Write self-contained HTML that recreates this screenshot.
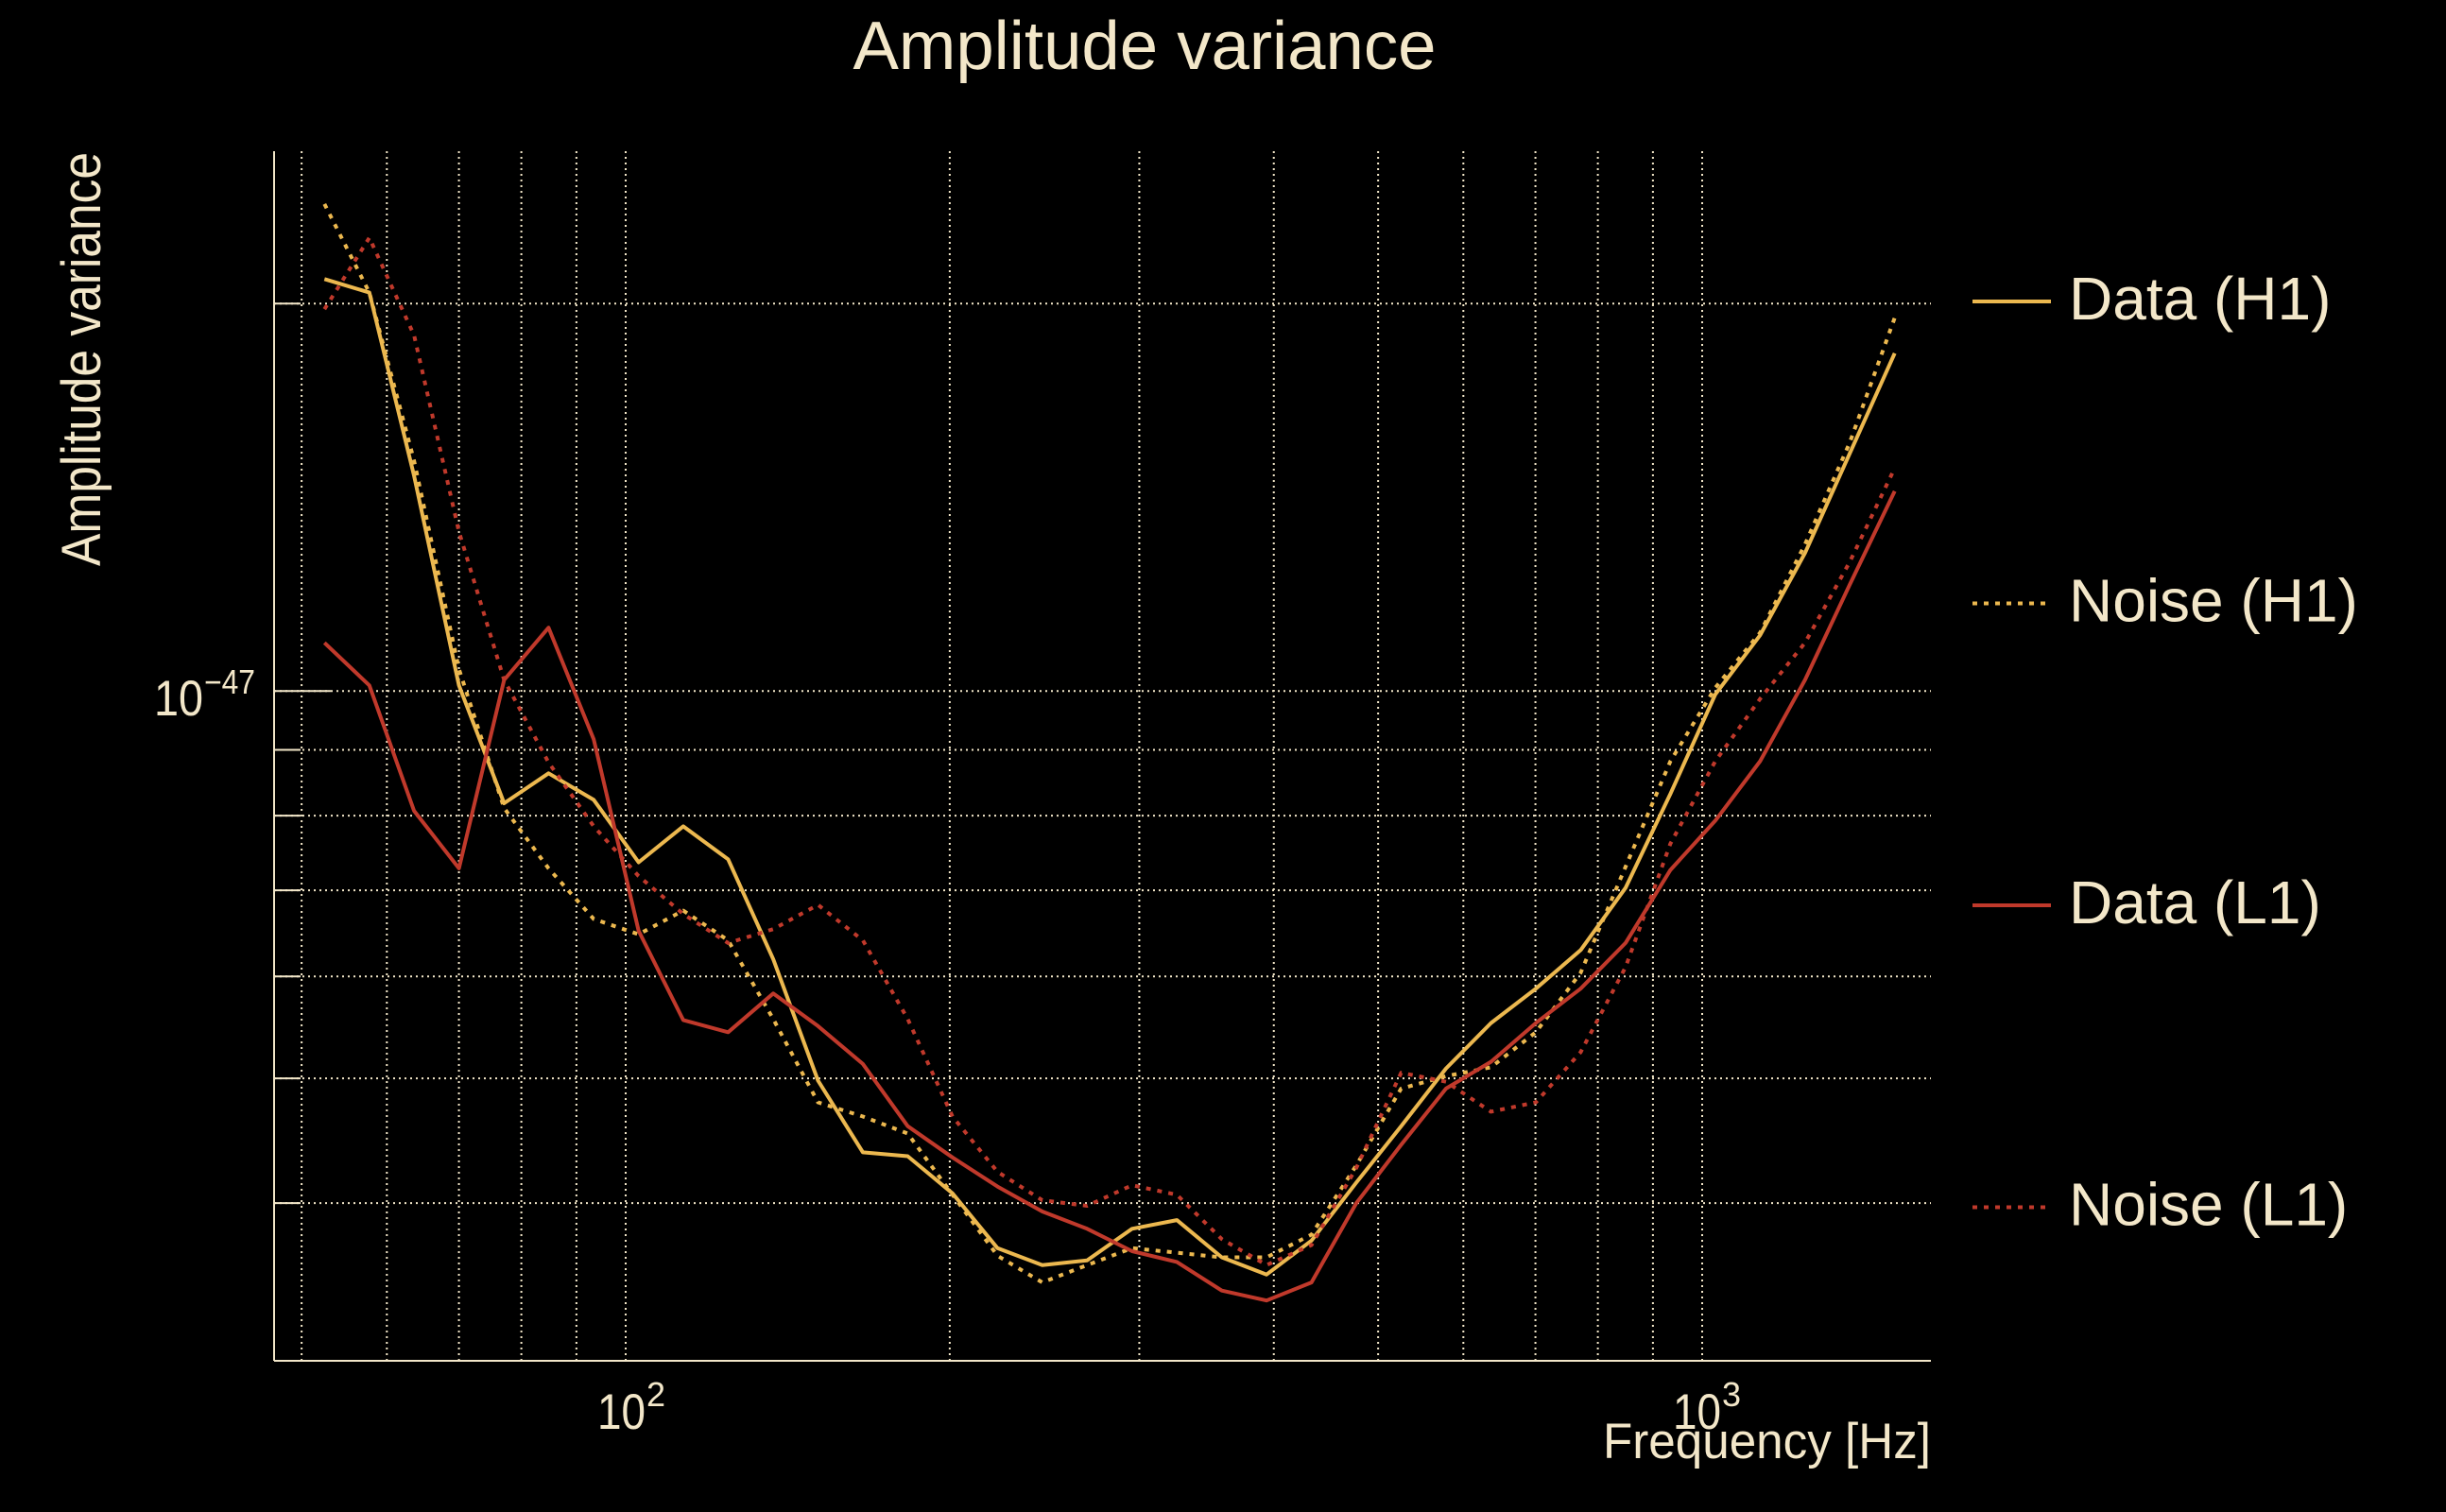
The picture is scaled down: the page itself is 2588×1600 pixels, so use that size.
<!DOCTYPE html>
<html><head><meta charset="utf-8"><title>Amplitude variance</title>
<style>html,body{margin:0;padding:0;background:#000;}svg{display:block;}
text{font-family:"Liberation Sans",sans-serif;fill:#f3e7c9;}</style></head>
<body>
<svg id="chart" width="2588" height="1600" viewBox="0 0 2588 1600" xmlns="http://www.w3.org/2000/svg">
<rect x="0" y="0" width="2588" height="1600" fill="#000"/>
<g id="grid"></g>
<g id="axes"></g>
<g id="series"></g>
<text x="1211" y="73" font-size="72" text-anchor="middle" textLength="617" lengthAdjust="spacingAndGlyphs">Amplitude variance</text>
<text transform="translate(106,380) rotate(-90)" font-size="58" text-anchor="middle" textLength="438" lengthAdjust="spacingAndGlyphs">Amplitude variance</text>
<text x="2043" y="1543" font-size="53" text-anchor="end" textLength="347" lengthAdjust="spacingAndGlyphs">Frequency [Hz]</text>
<g>
<text x="163" y="757" font-size="53" textLength="52" lengthAdjust="spacingAndGlyphs">10</text>
<text x="216" y="734" font-size="36" textLength="54" lengthAdjust="spacingAndGlyphs">−47</text>
</g>
<g>
<text x="632" y="1512" font-size="53" textLength="51" lengthAdjust="spacingAndGlyphs">10</text>
<text x="684" y="1488" font-size="36">2</text>
</g>
<g>
<text x="1770" y="1512" font-size="53" textLength="51" lengthAdjust="spacingAndGlyphs">10</text>
<text x="1822" y="1488" font-size="36">3</text>
</g>
<g id="legend"></g>
</svg>
<script>
// Frequencies (Hz)
const freqs = [52.5,57.8,63.6,70.0,77.1,84.8,93.4,102.8,113.1,124.5,137.1,150.9,166.1,182.8,201.2,221.5,243.8,268.3,295.4,325.1,357.9,393.9,433.6,477.3,525.3,578.2,636.5,700.6,771.1,848.8,934.3,1028.4,1131.9,1245.9,1371.4,1509.5];
// values in units of 1e-48
const dataH1 = [20.9,20.4,14.7,10.1,8.18,8.63,8.23,7.36,7.85,7.40,6.19,4.98,4.38,4.35,4.07,3.69,3.58,3.61,3.82,3.88,3.63,3.52,3.74,4.15,4.59,5.09,5.52,5.87,6.29,7.03,8.32,9.94,11.05,12.8,15.3,18.3];
const noiseH1 = [23.9,20.4,15.1,10.4,8.11,7.28,6.65,6.47,6.75,6.40,5.56,4.79,4.67,4.53,4.06,3.64,3.47,3.58,3.69,3.66,3.63,3.63,3.78,4.28,4.91,5.02,5.10,5.43,6.04,7.30,8.82,10.06,11.1,13.0,15.6,19.5];
const dataL1 = [10.9,10.1,8.07,7.28,10.2,11.2,9.17,6.51,5.55,5.43,5.82,5.49,5.13,4.59,4.34,4.12,3.94,3.82,3.67,3.60,3.42,3.36,3.47,4.00,4.44,4.91,5.15,5.52,5.87,6.37,7.26,7.93,8.82,10.2,12.1,14.3];
const noiseL1 = [19.8,22.5,18.9,13.3,10.2,8.80,7.85,7.18,6.71,6.37,6.53,6.82,6.40,5.56,4.67,4.23,4.02,3.98,4.13,4.06,3.75,3.58,3.71,4.26,5.05,4.97,4.71,4.79,5.24,6.10,7.61,8.82,9.86,10.9,12.6,14.9];
const seriesNames = ["Data (H1)","Noise (H1)","Data (L1)","Noise (L1)"];
const xGridTicks = [50,60,70,80,90,100,200,300,400,500,600,700,800,900,1000];
const yGridTicks = [20,10,9,8,7,6,5,4];

const NS = "http://www.w3.org/2000/svg";
const L = 290, R = 2043, T = 160, B = 1440;
function xs(f){ return 662 + 1139 * (Math.log10(f) - 2); }
function ys(v){ return 731.2 - 1361.7 * (Math.log10(v) - 1); }
function mk(tag, attrs, parent){ const e = document.createElementNS(NS, tag); for (const k in attrs) e.setAttribute(k, attrs[k]); parent.appendChild(e); return e; }

const grid = document.getElementById('grid');
const cream = "#f3e7c9";
xGridTicks.forEach(f => {
  const l = mk('line', {x1: xs(f), x2: xs(f), y1: T, y2: B, stroke: cream, 'stroke-width': 2, 'stroke-dasharray': '2 4'}, grid);
  
  
});
yGridTicks.forEach(v => {
  const l = mk('line', {x1: L, x2: R, y1: ys(v), y2: ys(v), stroke: cream, 'stroke-width': 2, 'stroke-dasharray': '2 4'}, grid);
  
  
  const t = mk('line', {x1: L, x2: L + (v === 10 ? 60 : 28), y1: ys(v), y2: ys(v), stroke: cream, 'stroke-width': 2}, grid);
  
  
});
const axes = document.getElementById('axes');
const ya = mk('line', {x1: L, x2: L, y1: T, y2: B, stroke: cream, 'stroke-width': 2}, axes);


const xa = mk('line', {x1: L, x2: R, y1: B, y2: B, stroke: cream, 'stroke-width': 2}, axes);



const yellow = "#ecb84f", red = "#c0392b";
const defs = [
  {vals: dataH1, color: yellow, dash: null, name: 'data-h1-line'},
  {vals: noiseH1, color: yellow, dash: '5 7', name: 'noise-h1-line'},
  {vals: dataL1, color: red, dash: null, name: 'data-l1-line'},
  {vals: noiseL1, color: red, dash: '5 7', name: 'noise-l1-line'}
];
const sg = document.getElementById('series');
defs.forEach(d => {
  const pts = d.vals.map((v, i) => xs(freqs[i]).toFixed(1) + ',' + ys(v).toFixed(1)).join(' ');
  const a = {points: pts, fill: 'none', stroke: d.color, 'stroke-width': 4, 'stroke-linejoin': 'round'};
  if (d.dash) a['stroke-dasharray'] = d.dash;
  const p = mk('polyline', a, sg);
  
  
});

const lg = document.getElementById('legend');
defs.forEach((d, i) => {
  const base = 338 + i * 319.5;
  const g = mk('g', {}, lg);
  
  
  const a = {x1: 2087, x2: 2170, y1: base - 19, y2: base - 19, stroke: d.color, 'stroke-width': 4};
  if (d.dash) a['stroke-dasharray'] = d.dash;
  mk('line', a, g);
  const t = mk('text', {x: 2189, y: base, 'font-size': 64}, g);
  t.textContent = seriesNames[i];
});
</script>
</body></html>
